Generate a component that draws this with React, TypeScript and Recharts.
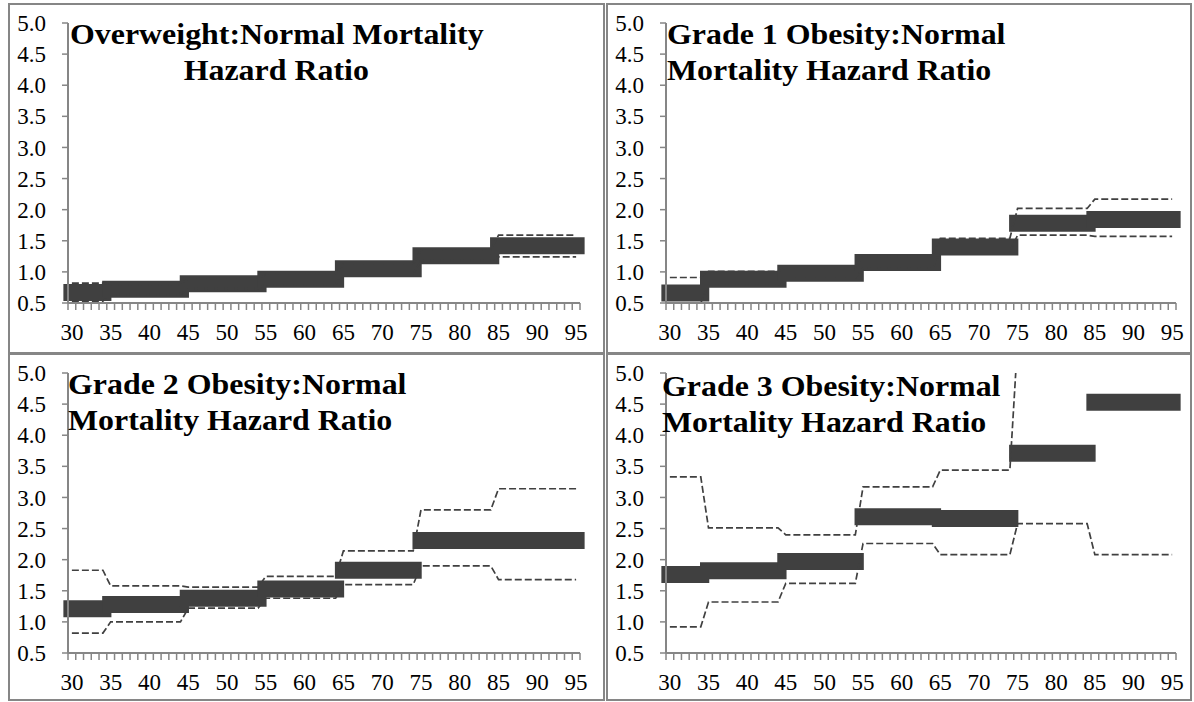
import { LineChart, Line, XAxis, YAxis } from "recharts";

// age groups (each thick bar covers one group)
const GROUP_START = [30, 35, 45, 55, 65, 75, 85];
const GROUP_END = [34, 44, 54, 64, 74, 84, 95];
const Y_TICKS = [0.5, 1.0, 1.5, 2.0, 2.5, 3.0, 3.5, 4.0, 4.5, 5.0];
const X_LABELS = [30, 35, 40, 45, 50, 55, 60, 65, 70, 75, 80, 85, 90, 95];

// Overweight : Normal
const OW_EST = [0.67, 0.72, 0.81, 0.88, 1.05, 1.26, 1.42];
const OW_LO = [0.53, 0.64, 0.73, 0.8, 0.97, 1.18, 1.24];
const OW_HI = [0.82, 0.8, 0.9, 0.96, 1.13, 1.35, 1.59];

// Grade 1 obesity : Normal
const G1_EST = [0.66, 0.88, 0.98, 1.15, 1.4, 1.78, 1.84];
const G1_LO = [0.5, 0.78, 0.9, 1.06, 1.33, 1.59, 1.57];
const G1_HI = [0.91, 1.01, 1.06, 1.25, 1.54, 2.02, 2.17];

// Grade 2 obesity : Normal
const G2_EST = [1.21, 1.28, 1.38, 1.53, 1.83, 2.31, 2.31];
const G2_LO = [0.82, 1.0, 1.22, 1.38, 1.6, 1.9, 1.68];
const G2_HI = [1.83, 1.58, 1.56, 1.73, 2.14, 2.8, 3.14];

// Grade 3 obesity : Normal (upper bound runs off the top after 75)
const G3_EST = [1.76, 1.82, 1.97, 2.69, 2.66, 3.71, 4.53];
const G3_LO = [0.92, 1.32, 1.62, 2.26, 2.08, 2.58, 2.08];
const G3_HI = [3.33, 2.51, 2.4, 3.17, 3.44, 5.5, 5.5];

const HALF_TICKS: number[] = [];
for (let t = 29.5; t <= 95.5; t += 1) HALF_TICKS.push(t);

const SERIF = "'Liberation Serif', 'Times New Roman', serif";
const AXIS = "#868686";
const INK = "#404040";

function buildRows(est: number[], lo: number[], hi: number[]) {
  const rows: any[] = [];
  GROUP_START.forEach((s, g) => {
    for (let age = s; age <= GROUP_END[g]; age++) {
      rows.push({ age, g, est: est[g], lo: lo[g], hi: hi[g] });
    }
  });
  return rows;
}

function XTick(props: any) {
  const { x, y, payload, step } = props;
  const lab = payload.value + 0.5;
  if (!X_LABELS.includes(lab)) return null;
  return (
    <text x={x + step / 2} y={y} dy="0.71em" textAnchor="middle" fontFamily={SERIF} fontSize={23} fill="#000">
      {lab}
    </text>
  );
}

type PanelProps = {
  x: number; y: number; w: number; h: number; mRight: number;
  title: string[]; titleX: number; titleY: number; center?: boolean; titleW?: number;
  est: number[]; lo: number[]; hi: number[];
};

function Panel({ x, y, w, h, mRight, title, titleX, titleY, center, titleW, est, lo, hi }: PanelProps) {
  const innerW = w - 4;
  const innerH = h - 4;
  const rows = buildRows(est, lo, hi);
  const plotW = innerW - 58 - mRight;
  const step = plotW / 66;
  return (
    <div style={{ position: "absolute", left: x, top: y, width: w, height: h, border: `2px solid ${AXIS}`, boxSizing: "border-box", background: "#fff" }}>
      <LineChart width={innerW} height={innerH} data={rows}
        margin={{ top: 18, right: mRight, bottom: innerH - 18 - 280 - 40, left: 8 }}>
        <XAxis type="number" dataKey="age" domain={[29.5, 95.5]} ticks={HALF_TICKS} interval={0}
          height={40} tickSize={7} tickMargin={14}
          axisLine={{ stroke: AXIS, strokeWidth: 2 }} tickLine={{ stroke: AXIS, strokeWidth: 1.5 }}
          tick={<XTick step={step} />} />
        <YAxis yAxisId="main" orientation="left" domain={[0.5, 5]} ticks={Y_TICKS} interval={0} width={50}
          tickSize={6} tickMargin={16} tickFormatter={(v: number) => v.toFixed(1)}
          axisLine={{ stroke: AXIS, strokeWidth: 2 }} tickLine={{ stroke: AXIS, strokeWidth: 1.5 }}
          tick={{ fill: "#000", fontSize: 23, fontFamily: SERIF }} />
        <YAxis yAxisId="clip" orientation="right" hide width={0} domain={[0.5, 5]} allowDataOverflow />
        {GROUP_START.map((_, g) => (
          <Line key={g} yAxisId="main" dataKey={(d: any) => (d.g === g ? d.est : null)}
            stroke={INK} strokeWidth={17} strokeLinecap="square" dot={false} activeDot={false}
            isAnimationActive={false} />
        ))}
        <Line yAxisId="main" dataKey="lo" type="linear" stroke={INK} strokeWidth={1.7} strokeDasharray="7 3"
          dot={false} activeDot={false} isAnimationActive={false} />
        <Line yAxisId="clip" dataKey="hi" type="linear" stroke={INK} strokeWidth={1.7} strokeDasharray="7 3"
          dot={false} activeDot={false} isAnimationActive={false} />
      </LineChart>
      <div style={{
        position: "absolute", left: titleX - x - 2, top: titleY - y - 2, width: titleW,
        textAlign: center ? "center" : "left", fontFamily: SERIF, fontWeight: "bold",
        fontSize: 29, lineHeight: "36px", color: "#000", whiteSpace: "pre",
        transform: "scaleX(1.1)", transformOrigin: "left top",
      }}>
        {title.map((t, i) => <div key={i}>{t}</div>)}
      </div>
    </div>
  );
}

export default function App() {
  return (
    <div style={{ position: "absolute", left: 0, top: 0, width: 1194, height: 702, background: "#fff", overflow: "hidden" }}>
      <Panel x={8} y={3} w={597} h={351} mRight={23}
        title={["Overweight:Normal Mortality", "Hazard Ratio"]} titleX={70} titleY={16} titleW={375} center
        est={OW_EST} lo={OW_LO} hi={OW_HI} />
      <Panel x={606} y={3} w={586} h={351} mRight={14}
        title={["Grade 1 Obesity:Normal", "Mortality Hazard Ratio"]} titleX={667} titleY={16}
        est={G1_EST} lo={G1_LO} hi={G1_HI} />
      <Panel x={8} y={353} w={597} h={348} mRight={23}
        title={["Grade 2 Obesity:Normal", "Mortality Hazard Ratio"]} titleX={68} titleY={366}
        est={G2_EST} lo={G2_LO} hi={G2_HI} />
      <Panel x={606} y={353} w={586} h={348} mRight={14}
        title={["Grade 3 Obesity:Normal", "Mortality Hazard Ratio"]} titleX={662} titleY={368}
        est={G3_EST} lo={G3_LO} hi={G3_HI} />
    </div>
  );
}
